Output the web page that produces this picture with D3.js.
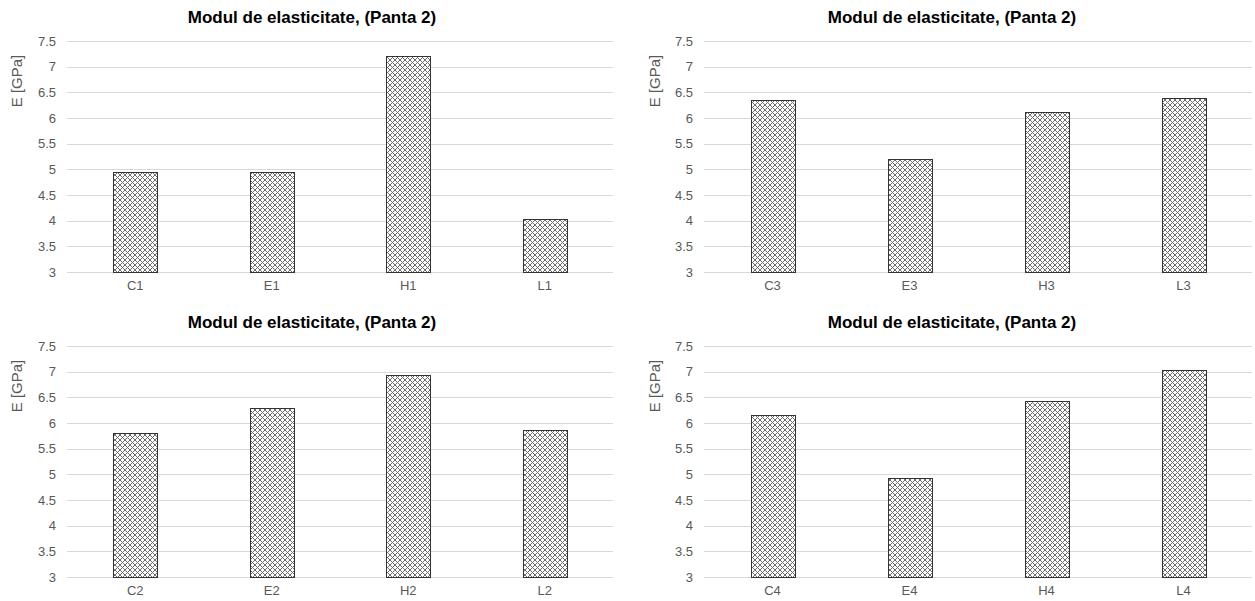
<!DOCTYPE html>
<html>
<head>
<meta charset="utf-8">
<script src="https://cdn.jsdelivr.net/npm/d3@7"></script>
<style>
  html, body { margin: 0; padding: 0; background: #fff; }
  svg { display: block; font-family: "Liberation Sans", Arial, sans-serif; }
</style>
</head>
<body>
<svg id="chart" width="1255" height="601"></svg>
<script>
// Shared chart text and axis ticks
const chartTitle = "Modul de elasticitate, (Panta 2)";
const axisTitle = "E [GPa]";
const yTicks = [3, 3.5, 4, 4.5, 5, 5.5, 6, 6.5, 7, 7.5];

// Series 1 (top left)
const cats1 = ["C1", "E1", "H1", "L1"];
const vals1 = [4.95, 4.94, 7.21, 4.04];
// Series 3 (top right)
const cats3 = ["C3", "E3", "H3", "L3"];
const vals3 = [6.35, 5.21, 6.12, 6.39];
// Series 2 (bottom left)
const cats2 = ["C2", "E2", "H2", "L2"];
const vals2 = [5.80, 6.29, 6.93, 5.87];
// Series 4 (bottom right)
const cats4 = ["C4", "E4", "H4", "L4"];
const vals4 = [6.16, 4.92, 6.42, 7.04];

const svg = d3.select("#chart");

// Cross-hatch fill for the bars
const defs = svg.append("defs");
const pat = defs.append("pattern")
  .attr("id", "hatch")
  .attr("patternUnits", "userSpaceOnUse")
  .attr("width", 5).attr("height", 5);
pat.append("rect").attr("width", 5).attr("height", 5).attr("fill", "#ffffff");
pat.append("path")
  .attr("d", "M0,0 L5,5 M5,0 L0,5 M-1,4 L1,6 M4,-1 L6,1 M-1,1 L1,-1 M4,6 L6,4")
  .attr("stroke", "#6e6e6e").attr("stroke-width", 1).attr("fill", "none");

// Panel layout: plot area and title centre
const panels = [
  { cats: cats1, vals: vals1, x0: 67,  x1: 613,  y0: 41,  y1: 272, tx: 312, ty: 23,  ax: 17,  ay: 81 },
  { cats: cats3, vals: vals3, x0: 704, x1: 1252, y0: 41,  y1: 272, tx: 952, ty: 23,  ax: 655, ay: 81 },
  { cats: cats2, vals: vals2, x0: 67,  x1: 613,  y0: 346, y1: 577, tx: 312, ty: 328, ax: 17,  ay: 386 },
  { cats: cats4, vals: vals4, x0: 704, x1: 1252, y0: 346, y1: 577, tx: 952, ty: 328, ax: 655, ay: 386 }
];

panels.forEach(p => {
  const g = svg.append("g");

  const x = d3.scaleBand().domain(p.cats).range([p.x0, p.x1]).paddingInner(0.68).paddingOuter(0.34);
  const y = d3.scaleLinear().domain([3, 7.5]).range([p.y1, p.y0]);

  // horizontal gridlines
  g.append("g").selectAll("line").data(yTicks).join("line")
    .attr("x1", p.x0).attr("x2", p.x1)
    .attr("y1", d => Math.round(y(d)) + 0.5).attr("y2", d => Math.round(y(d)) + 0.5)
    .attr("stroke", "#d9d9d9").attr("stroke-width", 1);

  // y axis tick labels
  const yAxis = d3.axisLeft(y).tickValues(yTicks).tickSize(0).tickPadding(0)
    .tickFormat(d => String(d));
  const ya = g.append("g").attr("transform", `translate(${p.x0 - 11},0)`).call(yAxis);
  ya.select(".domain").remove();
  ya.selectAll("text").attr("fill", "#595959").attr("font-size", 13)
    .attr("font-family", "Liberation Sans, Arial, sans-serif");

  // x axis category labels
  const xAxis = d3.axisBottom(x).tickSize(0).tickPadding(0);
  const xa = g.append("g").attr("transform", `translate(0,${p.y1 + 9})`).call(xAxis);
  xa.select(".domain").remove();
  xa.selectAll("text").attr("fill", "#595959").attr("font-size", 13)
    .attr("font-family", "Liberation Sans, Arial, sans-serif");

  // bars
  g.append("g").selectAll("rect").data(p.cats).join("rect")
    .attr("x", d => Math.round(x(d)) + 0.5)
    .attr("width", Math.round(x.bandwidth()))
    .attr("y", (d, i) => Math.round(y(p.vals[i])) + 0.5)
    .attr("height", (d, i) => Math.round(y(3)) - Math.round(y(p.vals[i])))
    .attr("fill", "url(#hatch)")
    .attr("stroke", "#333333").attr("stroke-width", 1);

  // chart title
  g.append("text")
    .attr("x", p.tx).attr("y", p.ty)
    .attr("text-anchor", "middle")
    .attr("font-size", 17).attr("font-weight", "bold").attr("fill", "#000000")
    .text(chartTitle);

  // axis title
  g.append("text")
    .attr("transform", `translate(${p.ax},${p.ay}) rotate(-90)`)
    .attr("text-anchor", "middle").attr("dy", "0.35em")
    .attr("font-size", 15).attr("fill", "#595959")
    .text(axisTitle);
});
</script>
</body>
</html>
